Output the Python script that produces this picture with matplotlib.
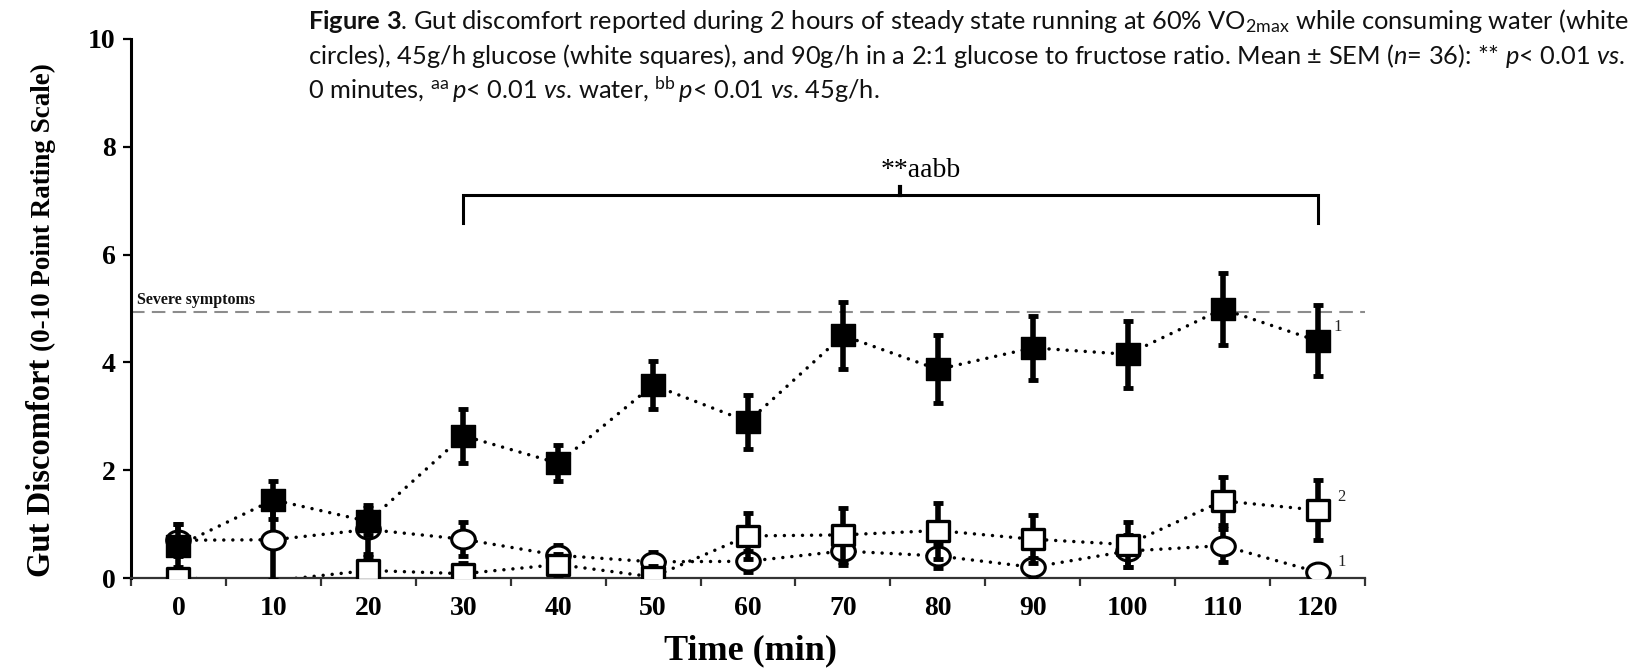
import numpy as np
import matplotlib
matplotlib.use('Agg')
import matplotlib.pyplot as plt
from matplotlib.path import Path
from matplotlib.transforms import Affine2D

# ---------------- data ----------------
time_min = [0, 10, 20, 30, 40, 50, 60, 70, 80, 90, 100, 110, 120]
water = [0.70, 0.71, 0.90, 0.72, 0.42, 0.30, 0.31, 0.50, 0.41, 0.20, 0.50, 0.60, 0.11]
water_sem = [0.30, 0.75, 0.45, 0.32, 0.20, 0.18, 0.20, 0.25, 0.22, 0.18, 0.30, 0.30, 0.10]
glu45 = [0.00, -0.05, 0.14, 0.08, 0.25, 0.02, 0.78, 0.80, 0.88, 0.72, 0.62, 1.43, 1.26]
glu45_sem = [0.15, 0.20, 0.25, 0.20, 0.20, 0.20, 0.42, 0.50, 0.52, 0.45, 0.42, 0.45, 0.55]
glu90 = [0.60, 1.45, 1.05, 2.64, 2.13, 3.58, 2.90, 4.50, 3.87, 4.27, 4.15, 4.99, 4.40]
glu90_sem = [0.40, 0.35, 0.25, 0.50, 0.33, 0.45, 0.50, 0.62, 0.63, 0.60, 0.62, 0.66, 0.66]
end_labels = {'glu90': '1', 'glu45': '2', 'water': '1'}
y_ticks = [0, 2, 4, 6, 8, 10]
severe_level = 4.93
severe_label = 'Severe symptoms'
bracket_x = [30, 120]
bracket_y = 7.10
bracket_leg = 0.52
bracket_mark_x = 76
bracket_text = '**aabb'
xlabel = 'Time (min)'
ylabel_main = 'Gut Discomfort'
ylabel_sub = '(0-10 Point Rating Scale)'
caption_lines = [
    r'$\mathbf{Figure\ 3}$. Gut discomfort reported during 2 hours of steady state running at 60% VO$_{\mathrm{2max}}$ while consuming water (white',
    r'circles), 45g/h glucose (white squares), and 90g/h in a 2:1 glucose to fructose ratio. Mean ± SEM ($\mathit{n}$= 36): ** $\mathit{p}$< 0.01 $\mathit{vs}$.',
    r'0 minutes, $^{\mathrm{aa}}\,\mathit{p}$< 0.01 $\mathit{vs}$. water, $^{\mathrm{bb}}\,\mathit{p}$< 0.01 $\mathit{vs}$. 45g/h.',
]

# ---------------- style ----------------
plt.rcParams['mathtext.fontset'] = 'custom'
plt.rcParams['mathtext.rm'] = 'Lato'
plt.rcParams['mathtext.it'] = 'Lato:italic'
plt.rcParams['mathtext.bf'] = 'Lato:bold'
SERIF = 'Liberation Serif'

W, H = 1651, 670
fig = plt.figure(figsize=(W / 100, H / 100), dpi=100)
fig.patch.set_facecolor('white')

ax_l, ax_r, ax_t, ax_b = 131, 1365, 39, 578
ax = fig.add_axes([ax_l / W, 1 - ax_b / H, (ax_r - ax_l) / W, (ax_b - ax_t) / H])

t = np.array(time_min, dtype=float)
step = t[1] - t[0]
ax.set_xlim(t[0] - step / 2, t[-1] + step / 2)
ax.set_ylim(y_ticks[0], y_ticks[-1])

# custom (slightly wide) marker shapes
sq_marker = Path([(-0.55, -0.48), (0.55, -0.48), (0.55, 0.48), (-0.55, 0.48), (-0.55, -0.48)],
                 [Path.MOVETO, Path.LINETO, Path.LINETO, Path.LINETO, Path.CLOSEPOLY])
circ = Path.unit_circle()
ell_marker = Path(Affine2D().scale(1.0, 0.80).transform(circ.vertices), circ.codes)

dot_style = dict(color='black', lw=2.5, linestyle=(0, (0.01, 2.6)), dash_capstyle='round')
eb_style = dict(fmt='none', ecolor='black', elinewidth=4.0, capsize=3.8, capthick=3.5)

def draw_series(vals, sems, marker, ms, mfc, mew, z):
    v = np.array(vals, dtype=float)
    s = np.array(sems, dtype=float)
    ax.plot(t, v, zorder=2, **dot_style)
    vis = v >= 0
    ax.errorbar(t[vis], v[vis], yerr=s[vis], zorder=z, **eb_style)
    ax.plot(t[vis], v[vis], linestyle='none', marker=marker, markersize=ms,
            markerfacecolor=mfc, markeredgecolor='black', markeredgewidth=mew, zorder=z + 0.5)

draw_series(water, water_sem, ell_marker, 17, 'white', 2.2, 3)
draw_series(glu45, glu45_sem, sq_marker, 16.3, 'white', 2.4, 5)
draw_series(glu90, glu90_sem, sq_marker, 17.5, 'black', 1.0, 7)

# end labels
lab_font = dict(family=SERIF, fontsize=12, color='#222222', ha='center', va='center')
ax.annotate(end_labels['glu90'], (t[-1], glu90[-1]), xytext=(20, 14), textcoords='offset pixels', **lab_font)
ax.annotate(end_labels['glu45'], (t[-1], glu45[-1]), xytext=(24, 13), textcoords='offset pixels', **lab_font)
ax.annotate(end_labels['water'], (t[-1], water[-1]), xytext=(24, 10), textcoords='offset pixels', **lab_font)

# severe symptoms line
ax.axhline(severe_level, color='#8c8c8c', lw=1.5, linestyle=(0, (6.5, 3.5)), zorder=1)
ax.annotate(severe_label, (ax.get_xlim()[0], severe_level), xytext=(6, 4), textcoords='offset pixels',
            ha='left', va='bottom', family=SERIF, fontweight='bold', fontsize=11.5, color='#111111')

# significance bracket
ax.plot([bracket_x[0], bracket_x[0], bracket_x[1], bracket_x[1]],
        [bracket_y - bracket_leg, bracket_y, bracket_y, bracket_y - bracket_leg], color='black', lw=2.2,
        solid_joinstyle='miter', zorder=3)
ax.plot([bracket_mark_x, bracket_mark_x], [bracket_y, bracket_y + 0.15], color='black', lw=3.0, zorder=3)
ax.annotate(bracket_text, (bracket_mark_x, bracket_y), xytext=(21, 25), textcoords='offset pixels',
            ha='center', va='center', family=SERIF, fontsize=20)

# axes styling
for sp in ['top', 'right']:
    ax.spines[sp].set_visible(False)
ax.spines['left'].set_linewidth(2.2)
ax.spines['left'].set_color('black')
ax.spines['bottom'].set_linewidth(1.6)
ax.spines['bottom'].set_color('#333333')

ax.set_yticks(y_ticks)
ax.set_yticklabels([str(v) for v in y_ticks])
ax.tick_params(axis='y', direction='out', length=6, width=1.6, pad=5, labelsize=20)

ax.set_xticks(t)
ax.set_xticklabels([str(int(v)) for v in t])
ax.set_xticks(np.append(t - step / 2, t[-1] + step / 2), minor=True)
ax.tick_params(axis='x', which='major', length=0, pad=13, labelsize=20)
ax.tick_params(axis='x', which='minor', direction='out', length=6, width=1.6, color='#333333')
for lbl in ax.get_xticklabels() + ax.get_yticklabels():
    lbl.set_family(SERIF)
    lbl.set_fontweight('bold')

# x label
fig.text(750 / W, 1 - 659 / H, xlabel, ha='center', va='baseline', family=SERIF,
         fontweight='bold', fontsize=26)

# y label (two sizes)
yl_x = 50 / W
t1 = fig.text(yl_x, 1 - 577 / H, ylabel_main, rotation=90, rotation_mode='anchor', ha='left',
              va='baseline', family=SERIF, fontweight='bold', fontsize=23.5)
fig.canvas.draw()
r = fig.canvas.get_renderer()
bb = t1.get_window_extent(r)
t2 = fig.text(yl_x, (bb.y1 + 8) / H, ylabel_sub, rotation=90, rotation_mode='anchor', ha='left',
              va='baseline', family=SERIF, fontweight='bold', fontsize=19.5)

# caption
cap_x = 308 / W
cap_base = [29, 64, 99]
cap_texts = [fig.text(cap_x, 1 - yb / H, s, ha='left', va='baseline', family='Lato', fontsize=17,
                      color='#111111') for s, yb in zip(caption_lines, cap_base)]
fig.canvas.draw()
w1 = cap_texts[0].get_window_extent(fig.canvas.get_renderer()).width
scale = (1630 - 308) / w1
for ct in cap_texts:
    ct.set_fontsize(17 * scale)

fig.savefig('out.png', dpi=100, facecolor='white')
